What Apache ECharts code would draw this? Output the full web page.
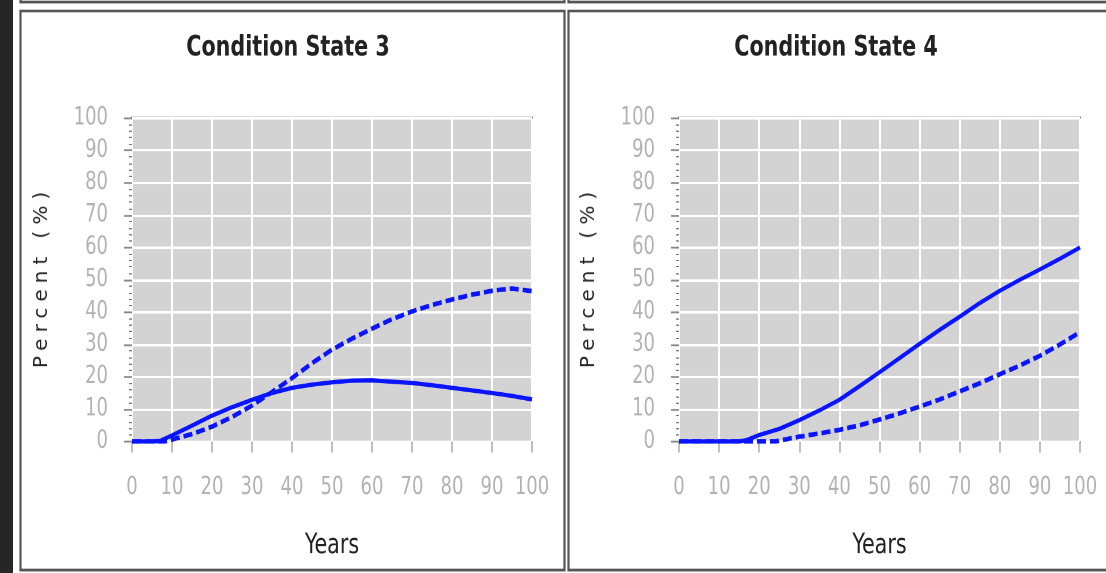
<!DOCTYPE html>
<html>
<head>
<meta charset="utf-8">
<script src="https://cdn.jsdelivr.net/npm/echarts@6/dist/echarts.min.js"></script>
<style>
  html, body { margin: 0; padding: 0; background: #fff; }
  #wrap { position: relative; width: 1106px; height: 573px; overflow: hidden; }
  /* the chart is laid out on a shorter canvas and stretched vertically,
     which gives its condensed lettering a tall, narrow look */
  #chart { position: absolute; left: 0; top: 0; width: 1106px; transform-origin: 0 0; }
  .yname {
    position: absolute; top: 277px;
    font-family: "DejaVu Sans", sans-serif; font-size: 20px; color: #222;
    letter-spacing: 6px; white-space: nowrap;
    transform: translate(-50%, -50%) rotate(-90deg);
  }
</style>
</head>
<body>
<div id="wrap">
  <div id="chart"></div>
  <div class="yname" style="left:40px">Percent (%)</div>
  <div class="yname" style="left:587px">Percent (%)</div>
</div>
<script>
// Panel titles and axis tick labels
const panelTitles = ['Condition State 3', 'Condition State 4'];
const yTicks = [0, 10, 20, 30, 40, 50, 60, 70, 80, 90, 100];
const xTicks = [0, 10, 20, 30, 40, 50, 60, 70, 80, 90, 100];

// Condition State 3 — solid curve
const cs3SolidYears = [0, 5, 7, 10, 15, 20, 25, 30, 35, 40, 45, 50, 55, 60, 65, 70, 75, 80, 85, 90, 95, 100];
const cs3SolidPct   = [0, 0, 0.2, 1.9, 4.9, 8.0, 10.6, 12.9, 15.0, 16.6, 17.6, 18.3, 18.8, 18.9, 18.5, 18.1, 17.4, 16.6, 15.8, 15.0, 14.1, 13.0];
// Condition State 3 — dashed curve
const cs3DashYears = [0, 5, 8, 10, 15, 20, 25, 30, 35, 40, 45, 50, 55, 60, 65, 70, 75, 80, 85, 90, 95, 100];
const cs3DashPct   = [0, 0, 0, 0.6, 2.3, 4.6, 7.6, 11.1, 15.3, 19.6, 24.2, 28.4, 31.8, 34.9, 37.8, 40.2, 42.2, 43.9, 45.4, 46.6, 47.3, 46.5];

// Condition State 4 — solid curve
const cs4SolidYears = [0, 5, 10, 15, 17, 20, 25, 30, 35, 40, 45, 50, 55, 60, 65, 70, 75, 80, 85, 90, 95, 100];
const cs4SolidPct   = [0, 0, 0, 0, 0.5, 2.0, 3.9, 6.6, 9.6, 12.9, 17.1, 21.4, 25.8, 30.2, 34.5, 38.6, 42.8, 46.6, 50.0, 53.2, 56.5, 60.0];
// Condition State 4 — dashed curve
const cs4DashYears = [0, 5, 10, 15, 20, 24, 30, 35, 40, 45, 50, 55, 60, 65, 70, 75, 80, 85, 90, 95, 100];
const cs4DashPct   = [0, 0, 0, 0, 0, 0, 1.5, 2.5, 3.6, 5.0, 6.8, 8.7, 10.8, 13.0, 15.5, 18.0, 20.8, 23.5, 26.5, 30.0, 33.8];

const pair = (xs, ys) => xs.map((x, i) => [x, ys[i]]);

// vertical stretch applied to the whole chart canvas
const S = 1.22;
const V = v => v / S;   // page-pixel height -> chart-pixel height

const el = document.getElementById('chart');
el.style.height = V(573) + 'px';
el.style.transform = 'scaleY(' + S + ')';

const LINE_BLUE = '#0a14ff';
const FONT = '"DejaVu Sans Condensed", "DejaVu Sans", sans-serif';

const gridBoxes = [
  { left: 132, top: V(118), width: 400, height: V(323.5) },
  { left: 679, top: V(118), width: 401, height: V(323.5) }
];

function xAxisFor(i) {
  return {
    type: 'value', gridIndex: i, min: xTicks[0], max: xTicks[xTicks.length - 1], interval: 10,
    name: 'Years', nameLocation: 'middle', nameGap: 74,
    nameTextStyle: { fontFamily: FONT, fontSize: 23, color: '#222' },
    axisLine: { show: false },
    axisTick: { show: true, length: V(11), lineStyle: { color: '#aaa', width: 1.5 } },
    axisLabel: { margin: 28, fontFamily: FONT, fontSize: 20, color: '#b2b2b2' },
    splitLine: { show: true, lineStyle: { color: '#ffffff', width: 2 } }
  };
}
function yAxisFor(i) {
  return {
    type: 'value', gridIndex: i, min: yTicks[0], max: yTicks[yTicks.length - 1], interval: 10,
    axisLine: { show: false },
    axisTick: { show: true, length: 8, lineStyle: { color: '#888', width: 1.5 } },
    minorTick: { show: true, splitNumber: 5, length: 3, lineStyle: { color: '#777', width: 1 } },
    axisLabel: { margin: 24, fontFamily: FONT, fontSize: 20, color: '#b2b2b2' },
    splitLine: { show: true, lineStyle: { color: '#ffffff', width: 2 } }
  };
}
function lineSeries(i, data, dashed) {
  return {
    type: 'line', xAxisIndex: i, yAxisIndex: i, data: data,
    smooth: false, showSymbol: false, silent: true,
    lineStyle: { color: LINE_BLUE, width: dashed ? 3.8 : 3.5, type: dashed ? [9, 4] : 'solid', join: 'round' }
  };
}

// Panel frames and the dark margin strip
const frame = (x, y, w, h) => ({
  type: 'rect', silent: true, z: -10,
  shape: { x: x, y: V(y), width: w, height: V(h) },
  style: { fill: 'none', stroke: '#555', lineWidth: 2.2 }
});

const chart = echarts.init(el, null, { renderer: 'canvas', devicePixelRatio: 2 });
chart.setOption({
  backgroundColor: '#ffffff',
  animation: false,
  title: panelTitles.map((t, i) => ({
    text: t, left: i === 0 ? 288 : 836, top: 28, textAlign: 'center', padding: 0,
    textStyle: { fontFamily: FONT, fontWeight: 'bold', fontSize: 23, color: '#222' }
  })),
  graphic: [
    { type: 'rect', silent: true, z: -10, shape: { x: 0, y: 0, width: 13, height: V(573) }, style: { fill: '#262626' } },
    frame(20.5, -600, 544, 602),
    frame(568.5, -600, 560, 602),
    frame(20.5, 11, 544, 559),
    frame(568.5, 11, 560, 559)
  ],
  grid: gridBoxes.map(g => Object.assign({
    show: true, backgroundColor: '#d3d3d3', borderColor: '#555', borderWidth: 2, containLabel: false
  }, g)),
  xAxis: [xAxisFor(0), xAxisFor(1)],
  yAxis: [yAxisFor(0), yAxisFor(1)],
  series: [
    lineSeries(0, pair(cs3SolidYears, cs3SolidPct), false),
    lineSeries(0, pair(cs3DashYears, cs3DashPct), true),
    lineSeries(1, pair(cs4SolidYears, cs4SolidPct), false),
    lineSeries(1, pair(cs4DashYears, cs4DashPct), true)
  ]
});
</script>
</body>
</html>
